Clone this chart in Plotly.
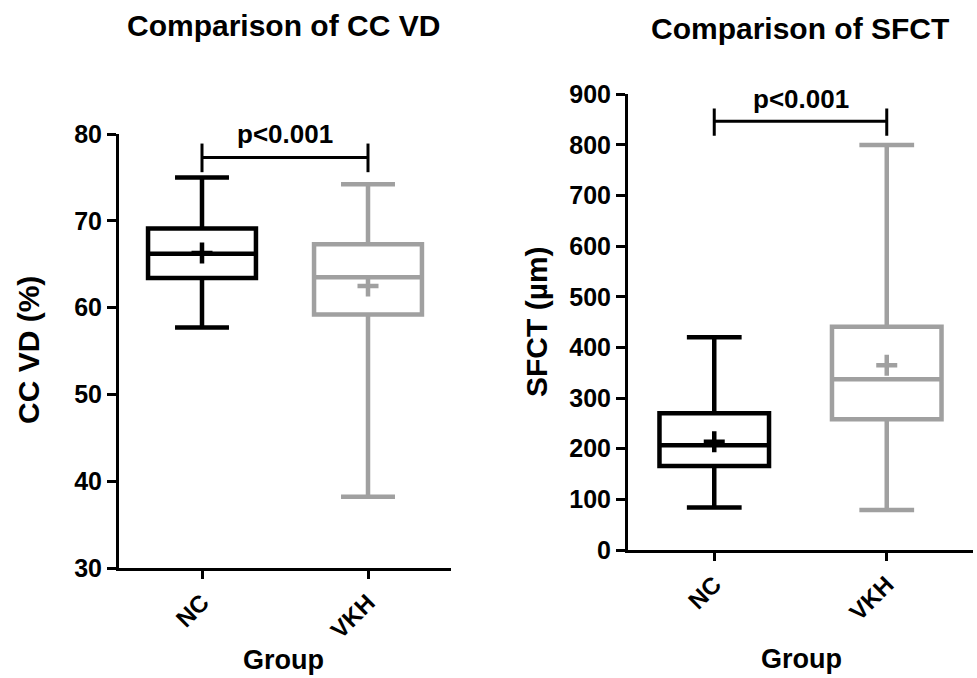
import plotly.graph_objects as go

# ---------------- data ----------------
groups = ["NC", "VKH"]
group_colors = ["#000000", "#a0a0a0"]

ccvd_min = [57.7, 38.2]
ccvd_q1 = [63.4, 59.2]
ccvd_median = [66.2, 63.5]
ccvd_q3 = [69.1, 67.3]
ccvd_max = [75.0, 74.2]
ccvd_mean = [66.3, 62.5]

sfct_min = [84, 79]
sfct_q1 = [166, 258]
sfct_median = [207, 337]
sfct_q3 = [270, 441]
sfct_max = [420, 800]
sfct_mean = [214, 365]

ccvd_ticks = [30, 40, 50, 60, 70, 80]
sfct_ticks = [0, 100, 200, 300, 400, 500, 600, 700, 800, 900]

# significance brackets: [bottom of legs, bar level, top of legs, label y]
ccvd_bracket = [75.6, 77.3, 78.9, 80.0]
sfct_bracket = [818, 847, 872, 891]
p_label = "p<0.001"

titles = ["Comparison of CC VD", "Comparison of SFCT"]
y_titles = ["CC VD (%)", "SFCT (µm)"]
x_title = "Group"

# ---------------- figure ----------------
W, H = 977, 678
FONT = "Arial, Liberation Sans, Helvetica, sans-serif"
LW = 4.5

fig = go.Figure()


def add_panel(xa, ya, mins, q1s, meds, q3s, maxs, means, width):
    for i, g in enumerate(groups):
        fig.add_trace(go.Box(
            x=[g], q1=[q1s[i]], median=[meds[i]], q3=[q3s[i]],
            lowerfence=[mins[i]], upperfence=[maxs[i]],
            width=width, whiskerwidth=0.5,
            line=dict(color=group_colors[i], width=LW),
            fillcolor="rgba(255,255,255,0)",
            boxpoints=False, showlegend=False,
            xaxis=xa, yaxis=ya, hoverinfo="skip",
        ))
        fig.add_trace(go.Scatter(
            x=[g], y=[means[i]], mode="markers",
            marker=dict(symbol="cross-thin", size=15,
                        line=dict(color=group_colors[i], width=LW)),
            showlegend=False, xaxis=xa, yaxis=ya, hoverinfo="skip",
        ))


add_panel("x", "y", ccvd_min, ccvd_q1, ccvd_median, ccvd_q3, ccvd_max, ccvd_mean, 0.65)
add_panel("x2", "y2", sfct_min, sfct_q1, sfct_median, sfct_q3, sfct_max, sfct_mean, 0.635)

line_common = dict(
    showline=True, linecolor="black", linewidth=3,
    ticks="outside", tickcolor="black", tickwidth=3,
    showgrid=False, zeroline=False, mirror=False, automargin=False,
)
ytick_font = dict(family=FONT, size=25, color="black", weight="bold")
xtick_font = dict(family=FONT, size=24, color="black", weight="bold")

fig.update_layout(
    template="none",
    width=W, height=H,
    margin=dict(l=0, r=0, t=0, b=0, pad=0, autoexpand=False),
    paper_bgcolor="white", plot_bgcolor="white",
    boxmode="overlay", showlegend=False,
    xaxis=dict(domain=[119 / W, 451 / W], type="category",
               categoryorder="array", categoryarray=groups,
               range=[-0.5, 1.5], anchor="y", ticklen=8,
               tickangle=-45, tickfont=xtick_font, **line_common),
    yaxis=dict(domain=[1 - 568 / H, 1 - 134 / H], range=[30, 80],
               tickvals=ccvd_ticks, anchor="x", ticklen=9,
               tickfont=ytick_font, **line_common),
    xaxis2=dict(domain=[628 / W, 973 / W], type="category",
                categoryorder="array", categoryarray=groups,
                range=[-0.5, 1.5], anchor="y2", ticklen=8,
                tickangle=-45, tickfont=xtick_font, **line_common),
    yaxis2=dict(domain=[1 - 550 / H, 1 - 94.3 / H], range=[0, 900],
                tickvals=sfct_ticks, anchor="x2", ticklen=9,
                tickfont=ytick_font, **line_common),
)

# brackets
for xr, yr, br in (("x", "y", ccvd_bracket), ("x2", "y2", sfct_bracket)):
    lo, mid, hi, ly = br
    for sh in (
        dict(x0=groups[0], x1=groups[0], y0=lo, y1=hi),
        dict(x0=groups[1], x1=groups[1], y0=lo, y1=hi),
        dict(x0=groups[0], x1=groups[1], y0=mid, y1=mid),
    ):
        fig.add_shape(type="line", xref=xr, yref=yr,
                      line=dict(color="black", width=3), **sh)
    fig.add_annotation(x=0.5, y=ly, xref=xr, yref=yr, text=p_label,
                       showarrow=False, xanchor="center", yanchor="middle",
                       font=dict(family=FONT, size=26, color="black", weight="bold"))

# titles and axis titles
def ann(text, px, py, size, angle=0):
    fig.add_annotation(x=px / W, y=1 - py / H, xref="paper", yref="paper",
                       text=text, showarrow=False, textangle=angle,
                       xanchor="center", yanchor="middle",
                       font=dict(family=FONT, size=size, color="black", weight="bold"))


ann(titles[0], 283, 26, 30)
ann(titles[1], 800, 29, 30)
ann(y_titles[0], 29, 350, 30, -90)
ann(y_titles[1], 537, 322, 30, -90)
ann(x_title, 283, 660, 27)
ann(x_title, 801, 659, 27)

fig.write_html(
    "out.html",
    config={"displayModeBar": False},
    post_script="document.body.style.margin='0';document.body.style.overflow='hidden';",
)
